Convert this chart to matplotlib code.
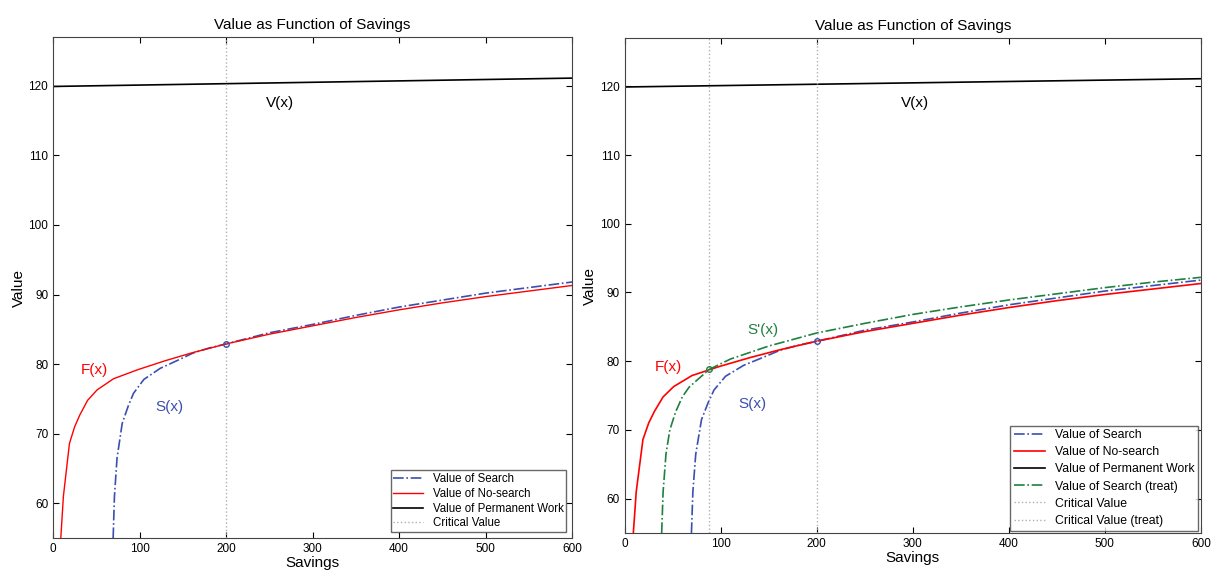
import numpy as np
import matplotlib
matplotlib.use('Agg')
import matplotlib.pyplot as plt

plt.rcParams['font.family'] = ['Liberation Sans', 'DejaVu Sans']

# Value functions
x_v = [0, 100, 200, 300, 400, 500, 600]
v_vals = [119.9, 120.1, 120.3, 120.5, 120.7, 120.9, 121.1]

x_f = [9, 12, 19, 25, 31, 40, 51, 70, 98, 130, 160, 200, 250, 300, 350, 400, 450, 500, 550, 600]
f_vals = [55, 61, 68.6, 71, 72.7, 74.8, 76.3, 77.9, 79.2, 80.5, 81.6, 82.9, 84.3, 85.5, 86.7, 87.8, 88.8, 89.7, 90.5, 91.3]

x_s = [69.5, 71, 74, 80, 87, 93, 105, 124, 145, 162, 180, 200, 250, 300, 350, 400, 450, 500, 550, 600]
s_vals = [55, 61, 66.5, 71.5, 74, 75.8, 77.8, 79.4, 80.6, 81.6, 82.3, 82.9, 84.5, 85.7, 87.0, 88.2, 89.2, 90.2, 91.0, 91.8]

x_st = [38.5, 40, 43, 47, 53, 60, 67, 75, 88, 110, 150, 200, 250, 300, 350, 400, 450, 500, 550, 600]
st_vals = [55, 61, 66.5, 70, 72.6, 74.8, 76.2, 77.2, 78.8, 80.3, 82.2, 84.1, 85.5, 86.8, 87.9, 88.9, 89.8, 90.7, 91.5, 92.2]

crit_x = 200
crit_y = 82.9
crit_x_treat = 88
crit_y_treat = 78.8

blue = '#3a4fb0'
green = '#1f8040'
grey = '#b0b0b8'

fig = plt.figure(figsize=(12.13, 5.70), dpi=100)
ax1 = fig.add_axes([0.0437, 0.056, 0.428, 0.879])
ax2 = fig.add_axes([0.515, 0.065, 0.475, 0.868])


def style(ax):
    ax.set_xlim(0, 600)
    ax.set_ylim(55, 127)
    ax.set_xticks(range(0, 601, 100))
    ax.set_yticks(range(60, 121, 10))
    ax.tick_params(direction='in', top=True, right=True, labelsize=8.5, length=4)
    for s in ax.spines.values():
        s.set_color('#444444')
        s.set_linewidth(0.8)
    ax.set_title('Value as Function of Savings', fontsize=11, pad=6)
    ax.set_xlabel('Savings', fontsize=11, labelpad=1)
    ax.set_ylabel('Value', fontsize=11, labelpad=2)


# Left panel
ax1.plot(x_s, s_vals, '-.', color=blue, lw=1.2, label='Value of Search')
ax1.plot(x_f, f_vals, '-', color='red', lw=1.0, label='Value of No-search')
ax1.plot(x_v, v_vals, '-', color='black', lw=1.2, label='Value of Permanent Work')
ax1.axvline(crit_x, color=grey, ls=':', lw=1.0, label='Critical Value')
ax1.plot(crit_x, crit_y, 'o', mfc='none', mec=blue, ms=4)
ax1.text(262, 117.5, 'V(x)', fontsize=11, ha='center', va='center')
ax1.text(48, 79.1, 'F(x)', fontsize=11, color='red', ha='center', va='center')
ax1.text(135, 73.8, 'S(x)', fontsize=11, color=blue, ha='center', va='center')
style(ax1)
ax1.legend(loc='lower right', fontsize=8.3, frameon=True, fancybox=False,
           edgecolor='#444444', borderpad=0.25, labelspacing=0.25, handlelength=2.6,
           borderaxespad=0.5)

# Right panel
ax2.plot(x_s, s_vals, '-.', color=blue, lw=1.2, label='Value of Search')
ax2.plot(x_f, f_vals, '-', color='red', lw=1.2, label='Value of No-search')
ax2.plot(x_v, v_vals, '-', color='black', lw=1.2, label='Value of Permanent Work')
ax2.plot(x_st, st_vals, '-.', color=green, lw=1.2, label='Value of Search (treat)')
ax2.axvline(crit_x, color=grey, ls=':', lw=1.0, label='Critical Value')
ax2.axvline(crit_x_treat, color=grey, ls=':', lw=1.0, label='Critical Value (treat)')
ax2.plot(crit_x, crit_y, 'o', mfc='none', mec=blue, ms=4)
ax2.plot(crit_x_treat, crit_y_treat, 'o', mfc='none', mec=green, ms=4)
ax2.text(302, 117.5, 'V(x)', fontsize=11, ha='center', va='center')
ax2.text(45, 79.1, 'F(x)', fontsize=11, color='red', ha='center', va='center')
ax2.text(133, 73.7, 'S(x)', fontsize=11, color=blue, ha='center', va='center')
ax2.text(144, 84.6, "S'(x)", fontsize=11, color=green, ha='center', va='center')
style(ax2)
ax2.legend(loc='lower right', fontsize=8.8, frameon=True, fancybox=False,
           edgecolor='#444444', borderpad=0.3, labelspacing=0.42, handlelength=2.6,
           borderaxespad=0.2)

fig.savefig('out.png', dpi=100)
